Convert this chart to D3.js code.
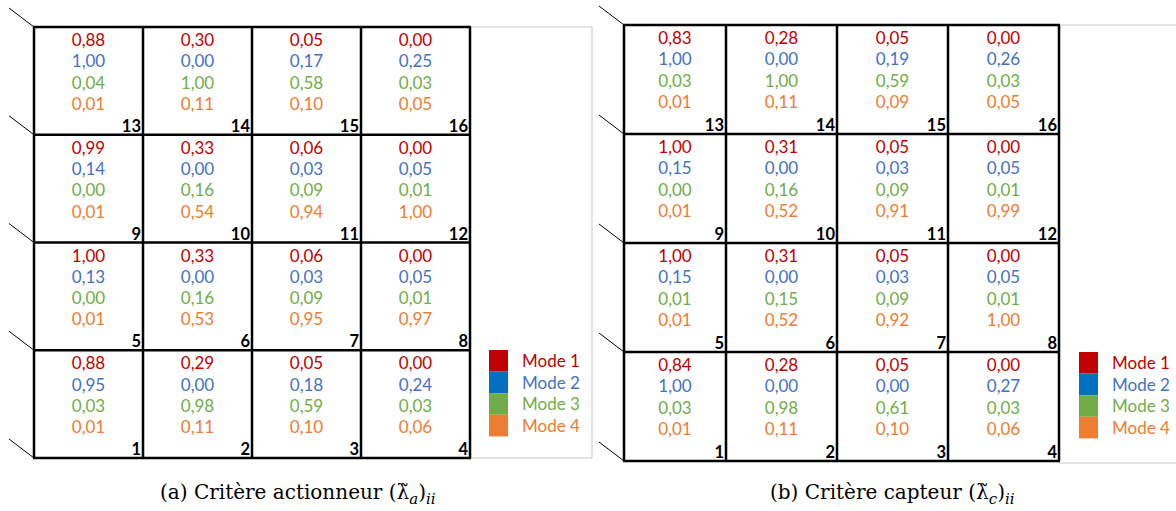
<!DOCTYPE html>
<html><head><meta charset="utf-8">
<script src="https://cdn.jsdelivr.net/npm/d3@7"></script>
<style>body{margin:0;background:#fff}svg{display:block}</style>
</head><body><svg id="c" width="1176" height="511"></svg>
<script>
// cell numbers, top row first (as laid out), 4 columns
const cellIds = [[13,14,15,16],[9,10,11,12],[5,6,7,8],[1,2,3,4]];
const modes = ["Mode 1","Mode 2","Mode 3","Mode 4"];
// values per cell id: [mode1, mode2, mode3, mode4]
const valuesA = {
  1:["0,88","0,95","0,03","0,01"], 2:["0,29","0,00","0,98","0,11"], 3:["0,05","0,18","0,59","0,10"], 4:["0,00","0,24","0,03","0,06"],
  5:["1,00","0,13","0,00","0,01"], 6:["0,33","0,00","0,16","0,53"], 7:["0,06","0,03","0,09","0,95"], 8:["0,00","0,05","0,01","0,97"],
  9:["0,99","0,14","0,00","0,01"], 10:["0,33","0,00","0,16","0,54"], 11:["0,06","0,03","0,09","0,94"], 12:["0,00","0,05","0,01","1,00"],
  13:["0,88","1,00","0,04","0,01"], 14:["0,30","0,00","1,00","0,11"], 15:["0,05","0,17","0,58","0,10"], 16:["0,00","0,25","0,03","0,05"]
};
const valuesB = {
  1:["0,84","1,00","0,03","0,01"], 2:["0,28","0,00","0,98","0,11"], 3:["0,05","0,00","0,61","0,10"], 4:["0,00","0,27","0,03","0,06"],
  5:["1,00","0,15","0,01","0,01"], 6:["0,31","0,00","0,15","0,52"], 7:["0,05","0,03","0,09","0,92"], 8:["0,00","0,05","0,01","1,00"],
  9:["1,00","0,15","0,00","0,01"], 10:["0,31","0,00","0,16","0,52"], 11:["0,05","0,03","0,09","0,91"], 12:["0,00","0,05","0,01","0,99"],
  13:["0,83","1,00","0,03","0,01"], 14:["0,28","0,00","1,00","0,11"], 15:["0,05","0,19","0,59","0,09"], 16:["0,00","0,26","0,03","0,05"]
};
const textColors = ["#C00000","#4472C4","#70AD47","#ED7D31"];
const swatchColors = ["#C00000","#0070C0","#70AD47","#ED7D31"];

const svg = d3.select("#c");
const FONT = "Lato, 'Open Sans', sans-serif";

function panel(cfg){
  const g = svg.append("g");
  const x = d3.scaleLinear().domain([0,4]).range([cfg.x0, cfg.x1]);
  const y = d3.scaleLinear().domain([0,4]).range([cfg.y0, cfg.y1]);
  const colX = cfg.cols ? (i => cfg.cols[i]) : x;
  // gray frame portion
  g.append("path").attr("d", cfg.frame).attr("fill","none").attr("stroke","#c8c8c8").attr("stroke-width",1);
  // diagonals
  g.selectAll("line.diag").data(d3.range(5)).join("line")
    .attr("x1", cfg.x0 - 25).attr("y1", d => y(d) - 19)
    .attr("x2", cfg.x0).attr("y2", d => y(d))
    .attr("stroke","#000").attr("stroke-width",1);
  // grid
  g.selectAll("line.h").data(d3.range(5)).join("line")
    .attr("x1", cfg.x0 - 1).attr("x2", cfg.x1 + 1).attr("y1", d => y(d)).attr("y2", d => y(d))
    .attr("stroke","#000").attr("stroke-width",2.5);
  g.selectAll("line.v").data(d3.range(5)).join("line")
    .attr("x1", d => colX(d)).attr("x2", d => colX(d)).attr("y1", cfg.y0).attr("y2", cfg.y1)
    .attr("stroke","#000").attr("stroke-width",2.5);
  const cells = [];
  cellIds.forEach((row, r) => row.forEach((id, c) => cells.push({id, r, c})));
  const cg = g.selectAll("g.cell").data(cells).join("g");
  cg.each(function(d){
    const s = d3.select(this);
    const cx = (colX(d.c) + colX(d.c+1)) / 2;
    const top = y(d.r);
    cfg.values[d.id].forEach((v, k) => {
      s.append("text").attr("x", cx).attr("y", top + 19 + k*21.3)
        .attr("text-anchor","middle").attr("fill", textColors[k])
        .style("font-family", FONT).style("font-size","17px").text(v);
    });
    s.append("text").attr("x", colX(d.c+1) - 2).attr("y", y(d.r+1) - 3)
      .attr("text-anchor","end").attr("fill","#000").style("font-weight","bold")
      .style("font-family", FONT).style("font-size","16.5px").text(d.id);
  });
  // legend
  const lg = g.append("g");
  modes.forEach((m, k) => {
    lg.append("rect").attr("x", cfg.lx).attr("y", cfg.ly + k*21.6).attr("width",19).attr("height",21.6)
      .attr("fill", swatchColors[k]);
    lg.append("text").attr("x", cfg.lx + 33).attr("y", cfg.ly + k*21.6 + 17)
      .attr("fill", textColors[k]).style("font-family", FONT).style("font-size","17px").text(m);
  });
  // caption
  const t = g.append("text").attr("x", cfg.capX).attr("y", 499)
    .style("font-family","'DejaVu Serif', serif").style("font-size","20px").attr("fill","#000");
  t.append("tspan").text(cfg.capText + " (\u03BB\u0303");
  t.append("tspan").attr("dy", 5).style("font-style","italic").style("font-size","15px").text(cfg.sub);
  t.append("tspan").attr("dy", -5).text(")");
  t.append("tspan").attr("dy", 5).style("font-style","italic").style("font-size","15px").text("ii");
}

panel({x0:34, x1:470, y0:27, y1:458, values: valuesA,
  frame:"M470,27H592V458H470", lx:489, ly:350, capX:160, capText:"(a) Critère actionneur", sub:"a"});
panel({x0:624, x1:1059, y0:25, y1:461, values: valuesB, cols:[624,726,837,948,1059],
  frame:"M1059,25H1176M1059,463H1176", lx:1079, ly:352, capX:770, capText:"(b) Critère capteur", sub:"c"});
</script></body></html>
